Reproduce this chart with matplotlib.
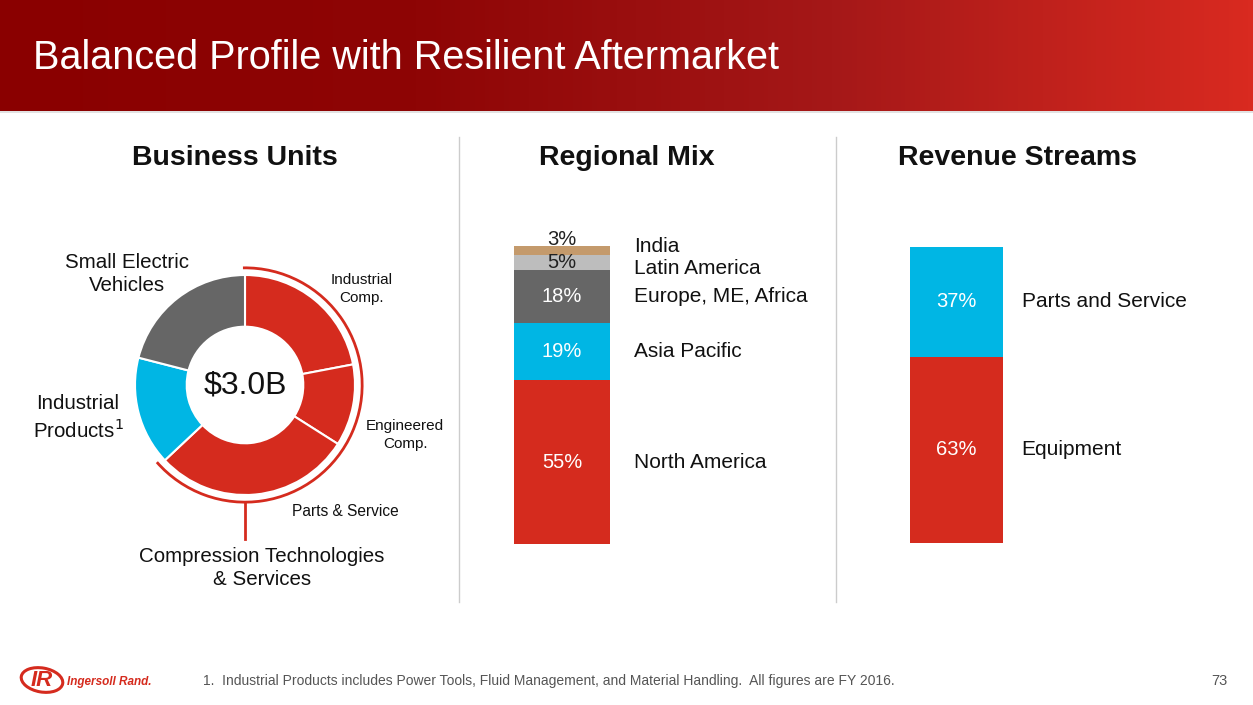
import numpy as np
import matplotlib
matplotlib.use("Agg")
import matplotlib.pyplot as plt
from matplotlib.patches import Arc, Ellipse

plt.rcParams['font.family'] = ['Liberation Sans', 'DejaVu Sans']

# data
unit_names = ["Industrial\nComp.", "Engineered\nComp.", "Parts & Service",
              "Industrial\nProducts$^1$", "Small Electric\nVehicles"]
unit_share = [22, 12, 29, 16, 21]
unit_colors = ["#d52b1e", "#d52b1e", "#d52b1e", "#00b6e4", "#666666"]

regions = ["North America", "Asia Pacific", "Europe, ME, Africa", "Latin America", "India"]
region_share = [55, 19, 18, 5, 3]
region_colors = ["#d52b1e", "#00b6e4", "#666666", "#bdbdbd", "#c49a6c"]
region_pct_colors = ["white", "white", "white", "#222222", "#222222"]

streams = ["Equipment", "Parts and Service"]
stream_share = [63, 37]
stream_colors = ["#d52b1e", "#00b6e4"]

W, H = 1253, 705
fig = plt.figure(figsize=(W / 100, H / 100), dpi=100)
fig.patch.set_facecolor("white")


def px_axes(x0, y0, x1, y1):
    # axes placed by pixel box (top-left origin)
    return fig.add_axes([x0 / W, (H - y1) / H, (x1 - x0) / W, (y1 - y0) / H])


# background / layout layer in pixel coords
bg = fig.add_axes([0, 0, 1, 1])
bg.set_xlim(0, W)
bg.set_ylim(H, 0)
bg.axis("off")

grad = np.linspace(0, 1, 256)[None, :]
cmap = matplotlib.colors.LinearSegmentedColormap.from_list(
    "hdr", ["#8a0000", "#8e0505", "#a51818", "#d92a20"])
bg.imshow(grad, cmap=cmap, extent=[0, W, 111, 0], aspect="auto", zorder=0)
bg.plot([0, W], [112, 112], color="#dddddd", lw=1.2)
bg.text(33, 58, "Balanced Profile with Resilient Aftermarket", color="white",
        fontsize=28.5, va="center", ha="left")

for t, x in [("Business Units", 235), ("Regional Mix", 627), ("Revenue Streams", 1017)]:
    bg.text(x, 158, t, fontsize=20.5, fontweight="bold", ha="center", va="center", color="#111111")
for x in [459, 836]:
    bg.plot([x, x], [137, 602], color="#cccccc", lw=1)

# footer
bg.add_patch(Ellipse((42, 680), 42, 24, fill=False, ec="#d52b1e", lw=2.2, angle=10))
bg.text(42, 681, "IR", color="#d52b1e", fontsize=16, fontweight="bold", style="italic",
        ha="center", va="center")
bg.text(67, 682, "Ingersoll Rand.", color="#d52b1e", fontsize=8.5, fontweight="bold",
        style="italic", ha="left", va="center")
bg.text(203, 681, "1.  Industrial Products includes Power Tools, Fluid Management, and Material Handling.  All figures are FY 2016.",
        fontsize=10, color="#555555", ha="left", va="center")
bg.text(1227, 681, "73", fontsize=10.5, color="#555555", ha="right", va="center")

# donut
ax = px_axes(25, 165, 465, 605)
ax.pie(unit_share, colors=unit_colors, startangle=90, counterclock=False, radius=1,
       wedgeprops=dict(width=0.47, edgecolor="white", linewidth=1.5))
ax.set_xlim(-2, 2)
ax.set_ylim(-2, 2)
ax.set_aspect("equal")
ax.axis("off")
ax.text(0, 0, "$3.0B", fontsize=23, ha="center", va="center", color="#111111")

# bracket for compression technologies (first three units)
span = sum(unit_share[:3]) / sum(unit_share) * 360
ax.add_patch(Arc((0, 0), 2.13, 2.13, theta1=90 - span - 2, theta2=91,
                 color="#d52b1e", lw=2))
ax.plot([0, 0], [-1.065, -1.40], color="#d52b1e", lw=2)

label_pos = [(362, 289, 11), (405, 435, 11), (345, 511, 11.2), (78, 418, 14.8), (127, 274, 14.8)]
for name, (x, y, fs) in zip(unit_names, label_pos):
    bg.text(x, y, name, fontsize=fs, ha="center", va="center", color="#111111", linespacing=1.3)
bg.text(262, 568, "Compression Technologies\n& Services", fontsize=14.8, ha="center",
        va="center", color="#111111", linespacing=1.3)

# regional mix stacked bar
axr = px_axes(514, 246, 610, 544)
bottom = 0
centers = []
for v, c in zip(region_share, region_colors):
    axr.bar(0, v, bottom=bottom, width=1, color=c)
    centers.append(bottom + v / 2)
    bottom += v
axr.set_xlim(-0.5, 0.5)
axr.set_ylim(0, 100)
axr.axis("off")
pct_y = list(centers)
pct_y[4] = 102.3
name_y = list(centers)
name_y[3] = 92.6
name_y[4] = 99.7
for v, py, ny, name, tc in zip(region_share, pct_y, name_y, regions, region_pct_colors):
    axr.text(0, py, f"{v}%", fontsize=14.5, color=tc, ha="center", va="center", clip_on=False)
    axr.text(0.75, ny, name, fontsize=15, color="#111111", ha="left", va="center", clip_on=False)

# revenue streams stacked bar
axs = px_axes(910, 247, 1003, 543)
bottom = 0
for v, c, name in zip(stream_share, stream_colors, streams):
    axs.bar(0, v, bottom=bottom, width=1, color=c)
    axs.text(0, bottom + v / 2, f"{v}%", fontsize=14.5, color="white", ha="center", va="center")
    axs.text(0.70, bottom + v / 2, name, fontsize=15, color="#111111", ha="left", va="center",
             clip_on=False)
    bottom += v
axs.set_xlim(-0.5, 0.5)
axs.set_ylim(0, 100)
axs.axis("off")

fig.savefig("out.png", dpi=100)
